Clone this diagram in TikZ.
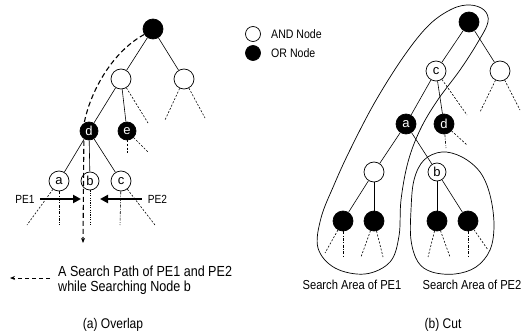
\documentclass[tikz,border=0pt]{standalone}
\usepackage{fontspec}
\setmainfont{Liberation Sans}
\newfontfamily\narrowsans{Liberation Sans}[FakeStretch=0.86]
\usetikzlibrary{arrows.meta}

\begin{document}
\begin{tikzpicture}[x=1pt,y=-1pt,
  base/.style={line width=0.6pt},
  andnode/.style={circle,draw,fill=white,line width=0.7pt,minimum size=20pt,inner sep=0pt,
    font=\fontsize{13}{14}\selectfont},
  ornode/.style={circle,draw,fill=black,text=white,line width=0.7pt,minimum size=20pt,inner sep=0pt,
    font=\fontsize{13}{14}\selectfont},
  edge/.style={base},
  stub/.style={base,dash pattern=on 2pt off 1.6pt},
  dstub/.style={base,dash pattern=on 3pt off 1.4pt on 0.8pt off 1.4pt},
  searchpath/.style={line width=1.1pt,dash pattern=on 5pt off 3pt,
    -{Stealth[length=5pt,width=4pt]}},
  pearrow/.style={line width=2.4pt,-{Triangle[length=8pt,width=8pt]}},
  region/.style={line width=0.7pt},
  label/.style={font=\narrowsans\fontsize{13}{15}\selectfont,inner sep=1pt}
]
\useasboundingbox (0,0) rectangle (530,334);

% ---------------- (a) Overlap ----------------
\coordinate (pathbend) at (84,124);
\coordinate (pathend) at (83,243);

\node[ornode] (lroot) at (153,29) {};
\node[andnode] (land1) at (121,79) {};
\node[andnode] (land2) at (184,79) {};
\node[ornode,minimum size=18pt] (ld) at (89,131) {d};
\node[ornode,minimum size=18pt] (le) at (127,131) {e};
\node[andnode] (la) at (59,181) {a};
\node[andnode,minimum size=18pt] (lb) at (90,181) {b};
\node[andnode] (lc) at (121,181) {c};

\draw[edge] (lroot) -- (land1);
\draw[edge] (lroot) -- (land2);
\draw[edge] (land1) -- (ld);
\draw[edge] (land1) -- (le);
\draw[edge] (ld) -- (la);
\draw[edge] (ld) -- (lb);
\draw[edge] (ld) -- (lc);

% open branches below the drawn nodes
\coordinate (s1) at (148,123);
\coordinate (s2) at (165,120);
\coordinate (s3) at (205,118);
\coordinate (s4) at (127,153);
\coordinate (s5) at (148,152);
\coordinate (s6) at (27,225);
\coordinate (s7) at (59,225);
\coordinate (s8) at (90,225);
\coordinate (s9) at (120,225);
\coordinate (s10) at (155,225);
\draw[stub] (land1) -- (s1);
\draw[stub] (land2) -- (s2);
\draw[stub] (land2) -- (s3);
\draw[stub] (le) -- (s4);
\draw[stub] (le) -- (s5);
\draw[stub] (la) -- (s6);
\draw[dstub] (la) -- (s7);
\draw[base,dash pattern=on 1.2pt off 1.2pt] (lb) -- (s8);
\draw[dstub] (lc) -- (s9);
\draw[stub] (lc) -- (s10);

% the shared search path
\draw[searchpath] (lroot.212) .. controls (112,52) and (90,92) .. (pathbend) -- (pathend);

% processing elements
\node[label,font=\narrowsans\fontsize{11.8}{13}\selectfont] (pe1) at (25,199) {PE1};
\node[label,font=\narrowsans\fontsize{11.8}{13}\selectfont] (pe2) at (157.5,199) {PE2};
\coordinate (pe1tip) at (81,199);
\coordinate (pe2tip) at (100,199);
\draw[pearrow] ([xshift=4pt]pe1.east) -- (pe1tip);
\draw[pearrow] ([xshift=-5pt]pe2.west) -- (pe2tip);

% key for the dashed path
\node[anchor=west,align=left,inner sep=1pt,font=\narrowsans\fontsize{14.6}{15}\selectfont] (legtext) at (57,280.5)
  {A Search Path of PE1 and PE2\\while Searching Node b};
\coordinate (legtip) at (10,278);
\draw[searchpath,line width=0.9pt,dash pattern=on 4pt off 3pt] ([shift={(-7,-2.5)}]legtext.west) -- (legtip);

\node[font=\narrowsans\fontsize{14}{16}\selectfont] (capa) at (113,325) {(a) Overlap};

% ---------------- node key ----------------
\node[andnode,minimum size=15pt] (keyand) at (253,34) {};
\node[ornode,minimum size=15pt] (keyor) at (253,53) {};
\node[label,anchor=west,font=\narrowsans\fontsize{12.3}{14}\selectfont] (keyandtxt) at (270,34) {AND Node};
\node[label,anchor=west,font=\narrowsans\fontsize{12.3}{14}\selectfont] (keyortxt) at (270,53) {OR Node};

% ---------------- (b) Cut ----------------
% search areas
\draw[region] plot[smooth cycle,tension=0.6] coordinates {
  (470,5) (484,10) (488,22) (478,42) (460,70) (437,101) (420,130) (408,162)
  (401,200) (399,236) (390,262) (365,274) (335,268) (318,248) (321,218)
  (334,185) (350,150) (375,102) (404,56) (429,25) (452,9)};
\draw[region] plot[smooth cycle,tension=0.6] coordinates {
  (442,152) (462,157) (480,172) (490,195) (494,225) (490,250) (476,267)
  (455,274) (432,272) (418,262) (411,240) (411,210) (414,180) (424,160)};

\node[ornode] (rroot) at (469,22) {};
\node[andnode] (rc) at (436,71) {c};
\node[andnode] (rand2) at (500,71) {};
\node[ornode] (ra) at (406,124) {a};
\node[ornode] (rd) at (444,124) {d};
\node[andnode] (rand3) at (374,172) {};
\node[andnode,minimum size=18pt] (rb) at (437,172) {b};
\node[ornode] (rl1) at (343,221) {};
\node[ornode] (rl2) at (374,221) {};
\node[ornode] (rl3) at (437,221) {};
\node[ornode] (rl4) at (468,221) {};

\draw[edge] (rroot) -- (rc);
\draw[edge] (rroot) -- (rand2);
\draw[edge] (rc) -- (ra);
\draw[edge] (rc) -- (rd);
\draw[edge] (ra) -- (rand3);
\draw[edge] (ra) -- (rb);
\draw[edge] (rand3) -- (rl1);
\draw[edge] (rand3) -- (rl2);
\draw[edge] (rb) -- (rl3);
\draw[edge] (rb) -- (rl4);

\coordinate (t1) at (467,115);
\coordinate (t2) at (480,112);
\coordinate (t3) at (520,110);
\coordinate (t4) at (446,148);
\coordinate (t5) at (467,145);
\coordinate (t6) at (325,253);
\coordinate (t7) at (343,257);
\coordinate (t8) at (361,257);
\coordinate (t9) at (383,257);
\coordinate (t10) at (428,257);
\coordinate (t11) at (450,257);
\coordinate (t12) at (468,257);
\coordinate (t13) at (488,250);
\draw[stub] (rc) -- (t1);
\draw[stub] (rand2) -- (t2);
\draw[stub] (rand2) -- (t3);
\draw[dstub] (rd) -- (t4);
\draw[stub] (rd) -- (t5);
\draw[stub] (rl1) -- (t6);
\draw[dstub] (rl1) -- (t7);
\draw[stub] (rl2) -- (t8);
\draw[stub] (rl2) -- (t9);
\draw[stub] (rl3) -- (t10);
\draw[stub] (rl3) -- (t11);
\draw[dstub] (rl4) -- (t12);
\draw[stub] (rl4) -- (t13);

\node[label] (area1) at (352,285) {Search Area of PE1};
\node[label] (area2) at (472,285) {Search Area of PE2};
\node[font=\narrowsans\fontsize{14}{16}\selectfont] (capb) at (443,325) {(b) Cut};
\end{tikzpicture}
\end{document}
